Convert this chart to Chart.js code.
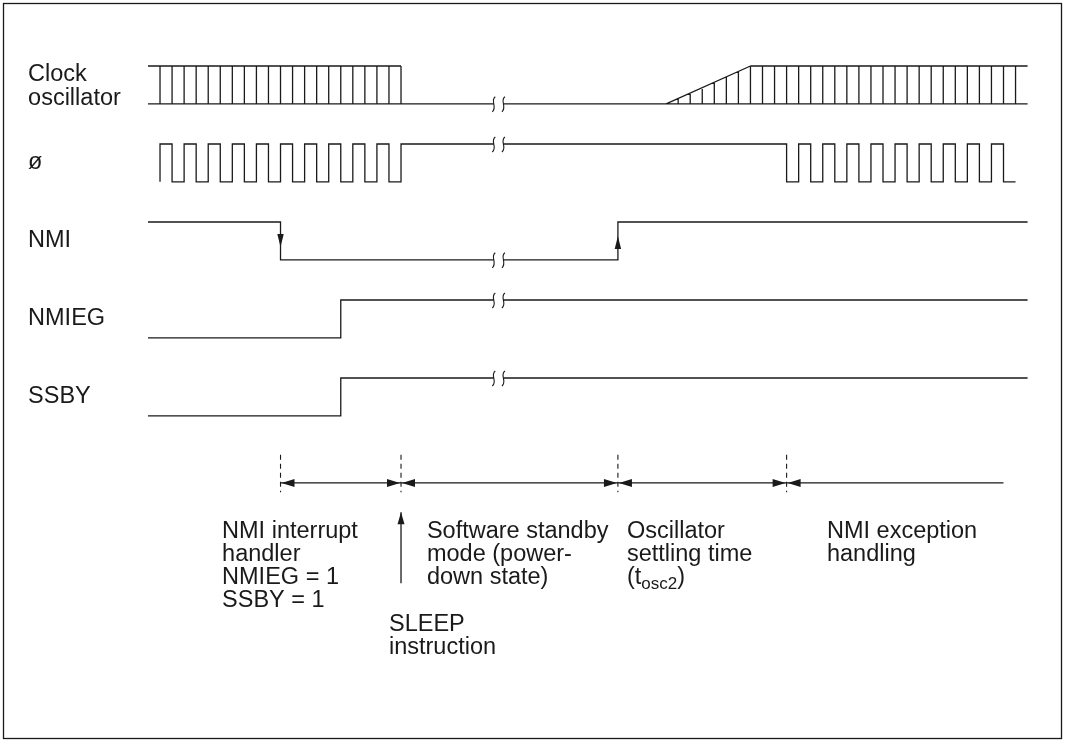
<!DOCTYPE html>
<html><head><meta charset="utf-8">
<script src="https://cdn.jsdelivr.net/npm/chart.js@4.4.1/dist/chart.umd.min.js"></script>
<style>html,body{margin:0;padding:0;background:#fff}#wrap{width:1067px;height:741px;position:relative}</style>
</head><body><div id="wrap"><canvas id="c"></canvas></div>
<script>
// ---------- data (time in half-periods of ø, logic levels 0/1) ----------
const signalNames = [['Clock','oscillator'], ['ø'], ['NMI'], ['NMIEG'], ['SSBY']];
const traceStart = -1, traceEnd = 72;
const breakAt = [27.7, 28.5];

const oscTopA = [-1, 20];
const oscTicksA = [0,1,2,3,4,5,6,7,8,9,10,11,12,13,14,15,16,17,18,19,20];
const oscRamp = [42, 49];
const oscTicksB = [43,44,45,46,47,48,49,50,51,52,53,54,55,56,57,58,59,60,61,62,63,64,65,66,67,68,69,70,71];
const oscTickLevelsB = [0.14,0.29,0.43,0.57,0.71,0.86,1,1,1,1,1,1,1,1,1,1,1,1,1,1,1,1,1,1,1,1,1,1,1];

const phiStart = 0, phiEnd = 71, phiInit = 0;
const phiEdges = [0,1,2,3,4,5,6,7,8,9,10,11,12,13,14,15,16,17,18,19,20,
                  52,53,54,55,56,57,58,59,60,61,62,63,64,65,66,67,68,69,70];
const nmiInit = 1,   nmiEdges = [10, 38];
const nmiegInit = 0, nmiegEdges = [15];
const ssbyInit = 0,  ssbyEdges = [15];

const phaseMarks = [10, 20, 38, 52];
const phaseEnd = 70;
const phaseTexts = [
  ['NMI interrupt','handler','NMIEG = 1','SSBY = 1'],
  ['Software standby','mode (power-','down state)'],
  ['Oscillator','settling time','(t|osc2|)'],
  ['NMI exception','handling']
];
const phaseTextX = [5.15, 22.15, 38.75, 55.35];
const sleepX = 20;
const sleepText = ['SLEEP','instruction'];
const sleepTextX = 19.0;

// ---------- layout ----------
const AMP = 0.97;                 // signal swing in row units
const lvlY = (row, lv) => 2*row + (1-lv)*AMP;
const dimY = 10.69, dashTop = 9.97, dashBot = 10.93;
const sleepY = [13.26, 11.44];
const labelX = -10.95;
const textBase = 12.1, textStep = 0.59;
const sleepBase = 14.5;
const INK = '#1a1a1a';
const FONT = '"Liberation Sans", Arial, Helvetica, sans-serif';
const FS = 23.5, FS_SUB = 17;

// ---------- build line geometry from data ----------
const breaks = [];
function wave(row, start, end, init, edges){
  let lv = init, t = start;
  const pts = [{x:start, y:lvlY(row,lv)}];
  const flat = (t2) => {
    if (t < breakAt[0] && t2 > breakAt[1]) {
      pts.push({x:breakAt[0], y:lvlY(row,lv)}, {x:breakAt[0], y:null}, {x:breakAt[1], y:lvlY(row,lv)});
      breaks.push({x:breakAt, y:lvlY(row,lv)});
    }
    pts.push({x:t2, y:lvlY(row,lv)}); t = t2;
  };
  for (const e of edges){ flat(e); lv = 1-lv; pts.push({x:e, y:lvlY(row,lv)}); }
  flat(end);
  return pts;
}
const oscPts = [];
function seg(x1,y1,x2,y2){ oscPts.push({x:x1,y:y1},{x:x2,y:y2},{x:x2,y:null}); }
seg(traceStart, lvlY(0,0), breakAt[0], lvlY(0,0));
seg(breakAt[1], lvlY(0,0), traceEnd, lvlY(0,0));
breaks.push({x:breakAt, y:lvlY(0,0)});
seg(oscTopA[0], lvlY(0,1), oscTopA[1], lvlY(0,1));
oscTicksA.forEach(t => seg(t, lvlY(0,0), t, lvlY(0,1)));
seg(oscRamp[0], lvlY(0,0), oscRamp[1], lvlY(0,1));
seg(oscRamp[1], lvlY(0,1), traceEnd, lvlY(0,1));
oscTicksB.forEach((t,i) => seg(t, lvlY(0,0), t, lvlY(0,oscTickLevelsB[i])));

const phiPts = wave(1, phiStart, phiEnd, phiInit, phiEdges);
const nmiPts = wave(2, traceStart, traceEnd, nmiInit, nmiEdges);
const nmiegPts = wave(3, traceStart, traceEnd, nmiegInit, nmiegEdges);
const ssbyPts = wave(4, traceStart, traceEnd, ssbyInit, ssbyEdges);

const dashPts = [];
phaseMarks.forEach(m => dashPts.push({x:m,y:dashTop},{x:m,y:dashBot},{x:m,y:null}));
const dimStops = phaseMarks.concat([phaseEnd]);
const dimPts = [];
for (let i=0;i<dimStops.length-1;i++) dimPts.push({x:dimStops[i],y:dimY},{x:dimStops[i+1],y:dimY},{x:dimStops[i+1],y:null});
const sleepPts = [{x:sleepX,y:sleepY[0]},{x:sleepX,y:sleepY[1]}];

const ds = (data, extra) => Object.assign({data, showLine:true, borderColor:INK, borderWidth:1.3,
  pointRadius:0, pointHoverRadius:0, spanGaps:false, tension:0, fill:false}, extra||{});

// ---------- extras: arrowheads, break marks, text, frame ----------
const extras = {
  id:'extras',
  afterDraw(chart){
    const {ctx, scales:{x, y}} = chart;
    const X = v => x.getPixelForValue(v), Y = v => y.getPixelForValue(v);
    ctx.save();
    ctx.strokeStyle = INK; ctx.fillStyle = INK; ctx.lineWidth = 1.3;
    ctx.strokeRect(3.5, 3.5, 1058, 735);
    const head = (px, py, dir, len, hw) => {
      ctx.beginPath(); ctx.moveTo(px, py);
      if (dir==='down'){ ctx.lineTo(px-hw, py-len); ctx.lineTo(px+hw, py-len); }
      if (dir==='up'){ ctx.lineTo(px-hw, py+len); ctx.lineTo(px+hw, py+len); }
      if (dir==='left'){ ctx.lineTo(px+len, py-hw); ctx.lineTo(px+len, py+hw); }
      if (dir==='right'){ ctx.lineTo(px-len, py-hw); ctx.lineTo(px-len, py+hw); }
      ctx.closePath(); ctx.fill();
    };
    const midNmi = (Y(lvlY(2,1)) + Y(lvlY(2,0)))/2;
    head(X(nmiEdges[0]), midNmi+6, 'down', 13, 3.2);
    head(X(nmiEdges[1]), midNmi-5, 'up', 13, 3.2);
    for (let i=0;i<dimStops.length-1;i++){
      head(X(dimStops[i])+1, Y(dimY), 'left', 13, 4);
      if (i < dimStops.length-2) head(X(dimStops[i+1])-1, Y(dimY), 'right', 13, 4);
    }
    head(X(sleepX), Y(sleepY[1]), 'up', 12, 3.5);
    ctx.lineWidth = 1.1;
    breaks.forEach(b => {
      b.x.forEach(bx => {
        const px = X(bx), py = Y(b.y);
        ctx.beginPath();
        ctx.moveTo(px+1.5, py-7);
        ctx.bezierCurveTo(px-4, py-3, px+4, py+3, px-1.5, py+8);
        ctx.stroke();
      });
    });
    ctx.textBaseline = 'alphabetic'; ctx.textAlign = 'left';
    ctx.font = FS + 'px ' + FONT;
    const lx = X(labelX);
    signalNames.forEach((lines, row) => {
      if (lines.length === 1) ctx.fillText(lines[0], lx, Y(2*row + 0.64));
      else lines.forEach((s, k) => ctx.fillText(s, lx, Y(2*row + 0.38 + k*0.62)));
    });
    const drawRich = (s, px, py) => {
      const parts = s.split('|');
      let cx = px;
      parts.forEach((p, k) => {
        if (k % 2 === 1){ ctx.font = FS_SUB + 'px ' + FONT; ctx.fillText(p, cx, py+5); }
        else { ctx.font = FS + 'px ' + FONT; ctx.fillText(p, cx, py); }
        cx += ctx.measureText(p).width;
      });
      ctx.font = FS + 'px ' + FONT;
    };
    phaseTexts.forEach((lines, i) => {
      lines.forEach((s, k) => drawRich(s, X(phaseTextX[i]), Y(textBase + k*textStep)));
    });
    sleepText.forEach((s, k) => ctx.fillText(s, X(sleepTextX), Y(sleepBase + k*textStep)));
    ctx.restore();
  }
};

new Chart(document.getElementById('c'), {
  type: 'scatter',
  data: { datasets: [
    ds(oscPts), ds(phiPts), ds(nmiPts), ds(nmiegPts), ds(ssbyPts),
    ds(dashPts, {borderDash:[5,4], borderWidth:1.1}),
    ds(dimPts, {borderWidth:1.1}),
    ds(sleepPts, {borderWidth:1.3})
  ]},
  options: {
    responsive: true, maintainAspectRatio: false, animation: false,
    layout: { padding: 0 },
    plugins: { legend: {display:false}, tooltip: {enabled:false}, title:{display:false} },
    events: [],
    scales: {
      x: { type:'linear', display:false, min:-13.28, max:75.27 },
      y: { type:'linear', display:false, reverse:true, min:-1.692, max:17.308 }
    }
  },
  plugins: [extras]
});
</script>
</body></html>
